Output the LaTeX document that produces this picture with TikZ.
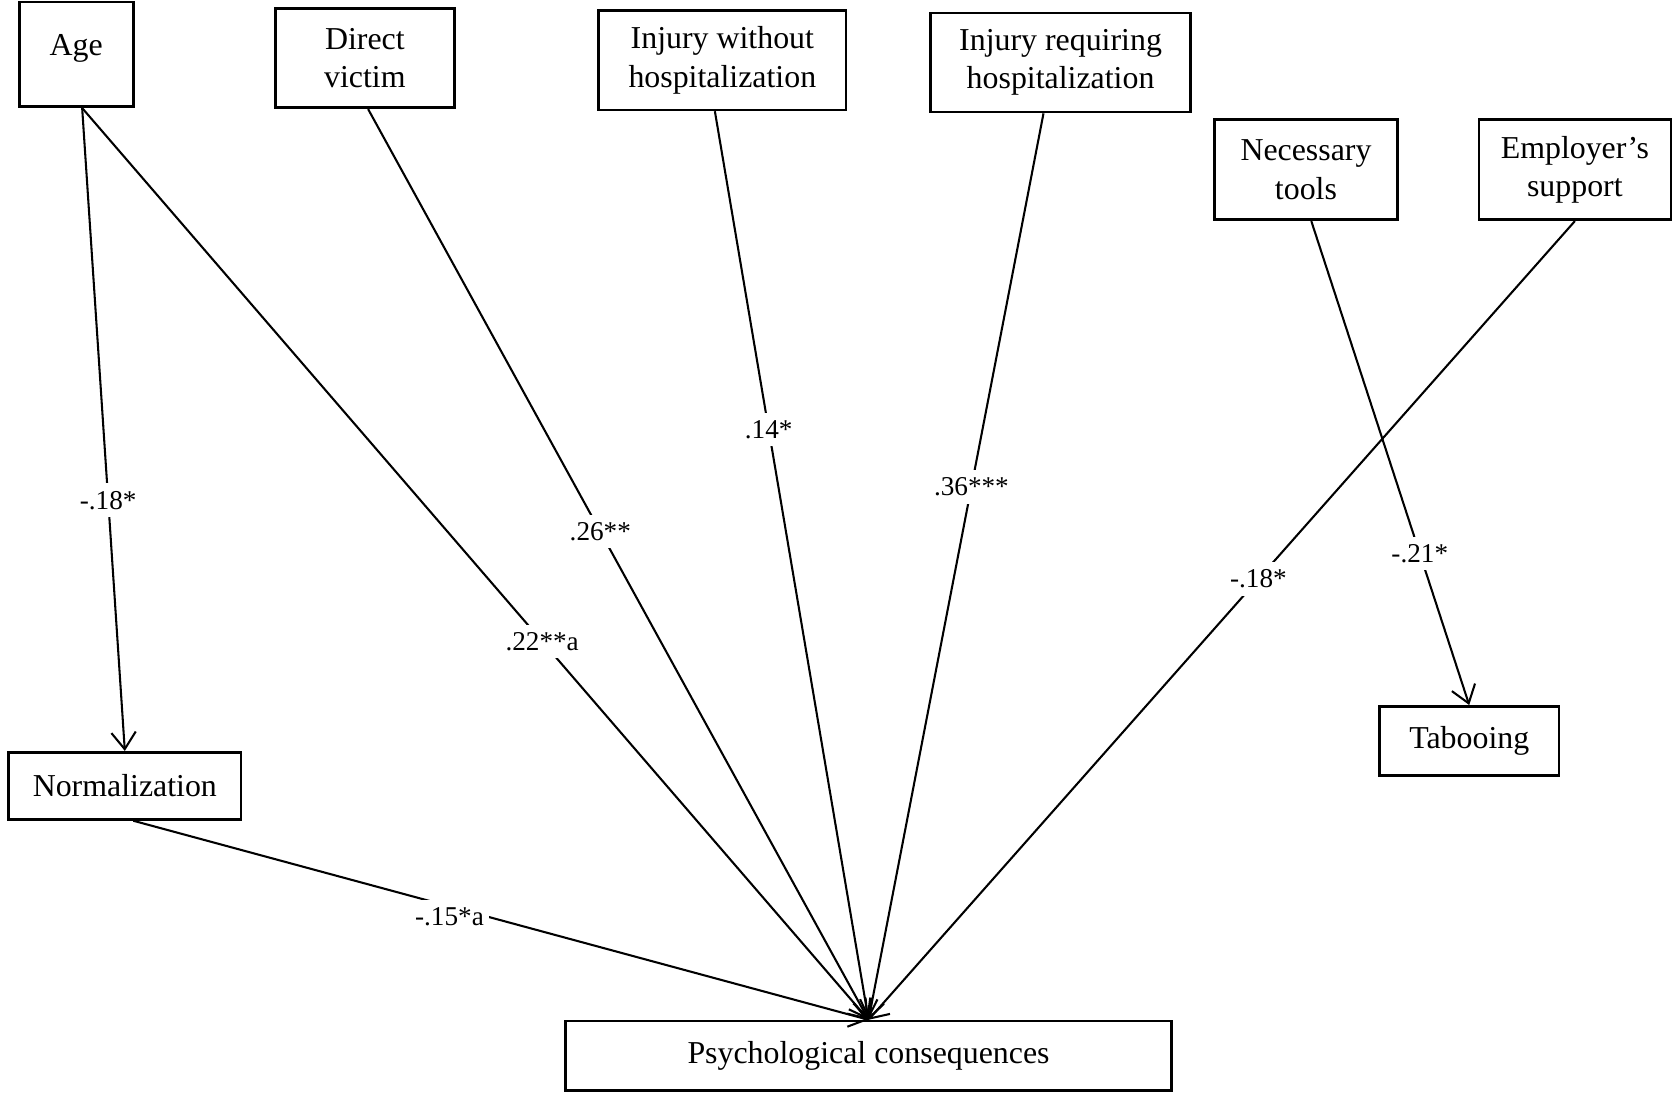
\documentclass[tikz,border=0pt]{standalone}
\usepackage{fontspec}
\setmainfont{Liberation Serif}
\usepackage{tikz}
\usetikzlibrary{arrows.meta,positioning}
\tikzset{
  varbox/.style={
    rectangle, draw=black, line width=1.4pt, fill=white,
    align=center, inner sep=2pt,
    font=\fontsize{17}{20.5}\selectfont
  },
  patharrow/.style={-{Straight Barb[length=9pt,width=13pt,line width=1.1pt]},
    line width=1.1pt, black},
  pathlbl/.style={
    fill=white, inner xsep=3pt, inner ysep=4pt, font=\fontsize{14.5}{16}\selectfont
  }
}
\begin{document}
\begin{tikzpicture}
  \useasboundingbox (0,0) rectangle (31.36,-20.48);

  % Predictors
  \node[varbox, minimum width=2.14cm, minimum height=1.96cm, text depth=0.37cm]
    (age) at (1.43,-1.02) {Age};
  \node[varbox, minimum width=3.36cm, minimum height=1.86cm]
    (direct) at (6.84,-1.09) {Direct\\victim};
  \node[varbox, minimum width=4.64cm, minimum height=1.86cm, text depth=0.12cm]
    (injwo) at (13.54,-1.13) {Injury without\\hospitalization};
  \node[varbox, minimum width=4.88cm, minimum height=1.86cm]
    (injreq) at (19.88,-1.17) {Injury requiring\\hospitalization};
  \node[varbox, minimum width=3.44cm, minimum height=1.88cm]
    (tools) at (24.48,-3.18) {Necessary\\tools};
  \node[varbox, minimum width=3.6cm, minimum height=1.88cm]
    (emp) at (29.52,-3.18) {Employer’s\\support};

  % Mediators and outcome
  \node[varbox, minimum width=4.36cm, minimum height=1.26cm]
    (norm) at (2.34,-14.73) {Normalization};
  \node[varbox, minimum width=3.36cm, minimum height=1.3cm]
    (tab) at (27.54,-13.89) {Tabooing};
  \node[varbox, minimum width=11.36cm, minimum height=1.3cm]
    (psych) at (16.28,-19.79) {Psychological consequences};

  % Paths
  \draw[patharrow] ([xshift=0.11cm]age.south) -- (norm.north)
    node[pathlbl, pos=0.61] {-.18*};
  \draw[patharrow] ([xshift=0.11cm]age.south) -- (psych.north)
    node[pathlbl, pos=0.585] {.22**a};
  \draw[patharrow] ([xshift=0.06cm]direct.south) -- (psych.north)
    node[pathlbl, pos=0.464] {.26**};
  \draw[patharrow] ([xshift=-0.14cm]injwo.south) -- (psych.north)
    node[pathlbl, pos=0.35] {.14*};
  \draw[patharrow] ([xshift=-0.32cm]injreq.south) -- (psych.north)
    node[pathlbl, pos=0.412] {.36***};
  \draw[patharrow] (emp.south) -- (psych.north)
    node[pathlbl, pos=0.448] {-.18*};
  \draw[patharrow] ([xshift=0.1cm]tools.south) -- (tab.north)
    node[pathlbl, pos=0.687] {-.21*};
  \draw[patharrow] ([xshift=0.16cm]norm.south) -- (psych.north)
    node[pathlbl, pos=0.43, yshift=-0.2cm] {-.15*a};
\end{tikzpicture}
\end{document}
